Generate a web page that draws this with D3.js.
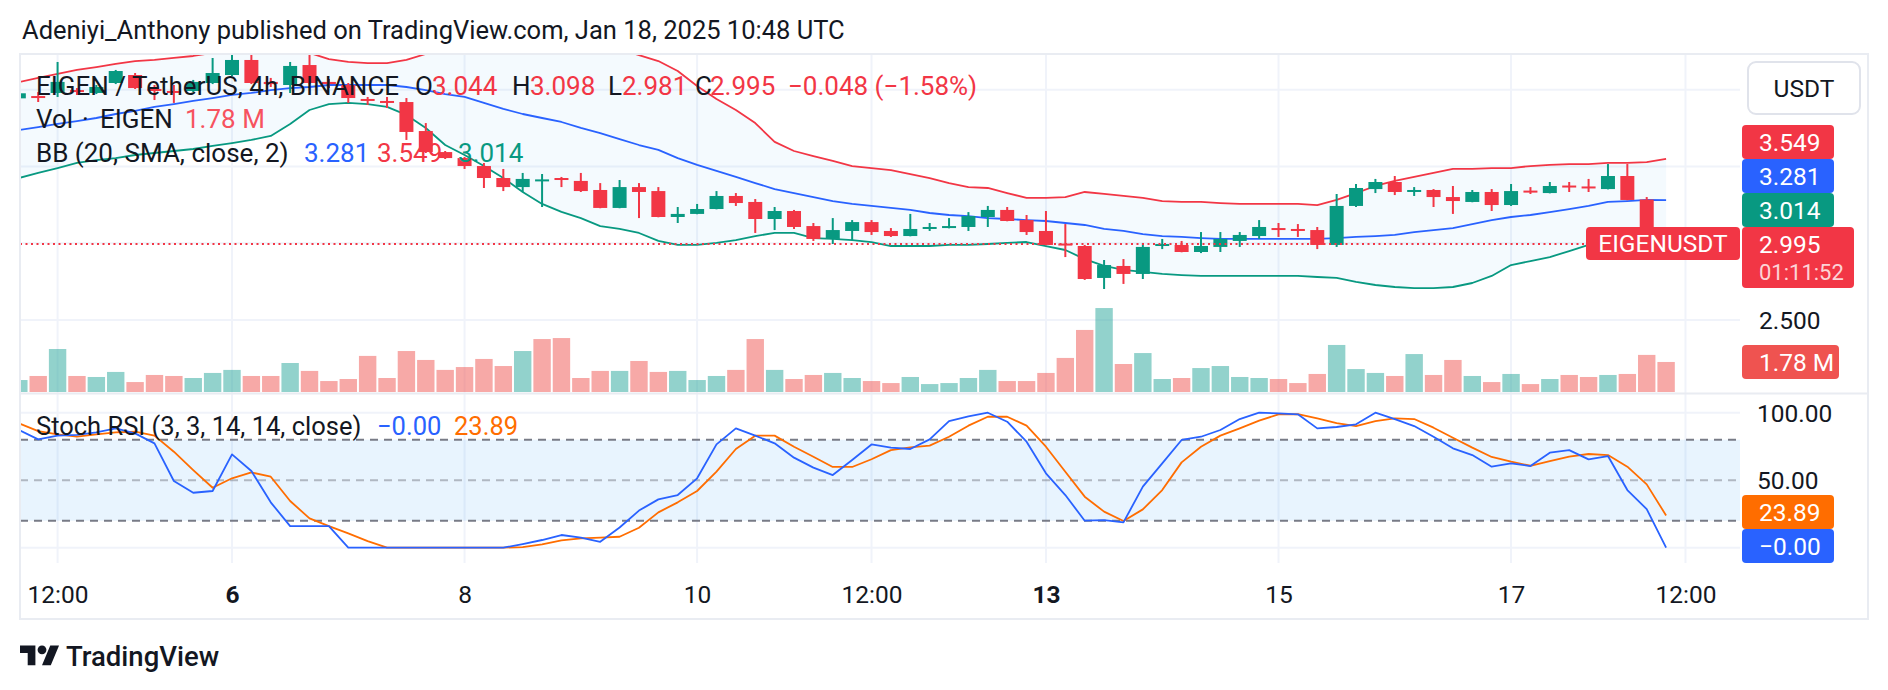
<!DOCTYPE html>
<html>
<head>
<meta charset="utf-8">
<script src="https://cdn.jsdelivr.net/npm/d3@7"></script>
<style>
	html, body { margin: 0; padding: 0; background: #fff; }
	svg { display: block; font-family: Roboto, "Noto Sans", sans-serif; }
</style>
</head>
<body>
<svg width="1888" height="690"></svg>
<script>
// EIGEN/USDT 4h bars, first bar Jan 4 04:00 UTC, last bar Jan 18 08:00 UTC
var firstBar = Date.UTC(2025, 0, 4, 4)
var barMs = 4 * 3600 * 1000

var opens = [3.944, 3.959, 3.979, 3.998, 3.979, 4.044, 4.096, 4.005, 3.992, 3.992,
	4.044, 4.096, 4.194, 4.051, 4.031, 4.161, 4.051, 4.031, 3.940, 3.927,
	3.920, 3.731, 3.594, 3.555, 3.503, 3.425, 3.366, 3.410, 3.425, 3.406,
	3.347, 3.230, 3.366, 3.340, 3.171, 3.191, 3.223, 3.308, 3.269, 3.158,
	3.210, 3.112, 3.028, 3.080, 3.138, 3.080, 3.047, 3.093, 3.099, 3.106,
	3.171, 3.217, 3.151, 3.080, 2.998, 2.982, 2.774, 2.852, 2.800, 2.982,
	2.989, 2.943, 2.976, 3.015, 3.047, 3.099, 3.093, 3.086, 2.989, 3.243,
	3.353, 3.399, 3.334, 3.347, 3.301, 3.269, 3.334, 3.249, 3.343, 3.327,
	3.376, 3.370, 3.353, 3.438, 3.285, 3.044]
var highs = [3.980, 3.985, 4.181, 4.011, 4.031, 4.129, 4.109, 4.031, 4.031, 4.064,
	4.207, 4.259, 4.227, 4.077, 4.181, 4.240, 4.070, 4.044, 3.953, 3.953,
	3.946, 3.783, 3.601, 3.562, 3.523, 3.484, 3.458, 3.451, 3.432, 3.458,
	3.392, 3.412, 3.392, 3.366, 3.236, 3.256, 3.340, 3.327, 3.288, 3.236,
	3.217, 3.132, 3.164, 3.151, 3.151, 3.099, 3.191, 3.132, 3.164, 3.203,
	3.243, 3.236, 3.184, 3.210, 3.125, 2.989, 2.891, 2.897, 3.002, 3.028,
	3.015, 3.073, 3.073, 3.073, 3.151, 3.132, 3.125, 3.106, 3.321, 3.386,
	3.419, 3.438, 3.366, 3.353, 3.373, 3.347, 3.353, 3.386, 3.366, 3.399,
	3.399, 3.419, 3.516, 3.516, 3.301, 3.098]
var lows = [3.940, 3.920, 3.953, 3.966, 3.972, 4.037, 4.005, 3.933, 3.914, 3.985,
	4.037, 4.090, 4.037, 4.018, 3.979, 4.037, 4.011, 3.914, 3.901, 3.881,
	3.673, 3.588, 3.549, 3.484, 3.360, 3.340, 3.334, 3.236, 3.366, 3.334,
	3.228, 3.228, 3.164, 3.169, 3.132, 3.189, 3.221, 3.243, 3.067, 3.086,
	3.093, 3.015, 2.995, 3.021, 3.054, 3.041, 3.045, 3.080, 3.097, 3.080,
	3.106, 3.143, 3.054, 2.987, 2.910, 2.761, 2.702, 2.735, 2.767, 2.962,
	2.941, 2.936, 2.943, 2.976, 3.028, 3.041, 3.041, 2.962, 2.976, 3.236,
	3.327, 3.314, 3.308, 3.236, 3.191, 3.267, 3.210, 3.243, 3.321, 3.325,
	3.334, 3.334, 3.351, 3.280, 3.015, 2.981]
var closes = [3.977, 3.953, 4.051, 3.985, 4.018, 4.122, 4.011, 3.992, 3.985, 4.051,
	4.109, 4.194, 4.044, 4.037, 4.155, 4.044, 4.037, 3.946, 3.927, 3.920,
	3.725, 3.594, 3.555, 3.503, 3.425, 3.366, 3.419, 3.416, 3.413, 3.340,
	3.230, 3.366, 3.334, 3.171, 3.191, 3.223, 3.308, 3.262, 3.158, 3.210,
	3.106, 3.028, 3.086, 3.138, 3.073, 3.047, 3.093, 3.106, 3.112, 3.177,
	3.217, 3.145, 3.073, 2.989, 2.985, 2.767, 2.858, 2.800, 2.976, 2.995,
	2.943, 2.982, 3.028, 3.054, 3.106, 3.086, 3.080, 2.989, 3.243, 3.360,
	3.399, 3.334, 3.347, 3.301, 3.275, 3.334, 3.249, 3.340, 3.337, 3.373,
	3.370, 3.363, 3.438, 3.282, 3.044, 2.995]
// volume in millions
var volumes = [0.71, 0.95, 2.55, 0.95, 0.89, 1.19, 0.59, 1.01, 0.95, 0.83,
	1.13, 1.31, 0.95, 0.95, 1.72, 1.25, 0.65, 0.77, 2.14, 0.83,
	2.43, 1.90, 1.31, 1.48, 1.96, 1.54, 2.43, 3.14, 3.20, 0.83,
	1.25, 1.25, 1.84, 1.19, 1.25, 0.71, 0.95, 1.31, 3.14, 1.31,
	0.77, 1.01, 1.13, 0.83, 0.65, 0.53, 0.89, 0.47, 0.53, 0.83,
	1.31, 0.65, 0.65, 1.13, 2.02, 3.68, 4.98, 1.66, 2.31, 0.77,
	0.83, 1.42, 1.54, 0.89, 0.83, 0.77, 0.53, 1.07, 2.79, 1.36,
	1.13, 0.95, 2.25, 1.01, 1.90, 0.95, 0.59, 1.07, 0.47, 0.77,
	1.01, 0.89, 1.01, 1.07, 2.20, 1.78]
// Bollinger bands (20, SMA, close, 2)
var bbUpper = [4.050, 4.077, 4.103, 4.129, 4.148, 4.168, 4.187, 4.194, 4.207, 4.220,
	4.240, 4.259, 4.279, 4.285, 4.272, 4.240, 4.200, 4.181, 4.174, 4.174,
	4.194, 4.233, 4.300, 4.330, 4.325, 4.325, 4.350, 4.376, 4.376, 4.338,
	4.324, 4.265, 4.226, 4.187, 4.122, 4.024, 3.940, 3.868, 3.783, 3.660,
	3.601, 3.568, 3.536, 3.503, 3.490, 3.477, 3.451, 3.425, 3.392, 3.366,
	3.360, 3.327, 3.295, 3.295, 3.301, 3.334, 3.321, 3.308, 3.295, 3.275,
	3.269, 3.269, 3.262, 3.256, 3.256, 3.256, 3.256, 3.249, 3.282, 3.327,
	3.373, 3.406, 3.432, 3.458, 3.484, 3.484, 3.490, 3.490, 3.503, 3.510,
	3.516, 3.516, 3.523, 3.523, 3.529, 3.549]
var bbBasis = [3.738, 3.757, 3.777, 3.796, 3.816, 3.842, 3.862, 3.888, 3.907, 3.927,
	3.946, 3.966, 3.979, 3.998, 4.011, 4.018, 4.031, 4.031, 4.031, 4.031,
	4.018, 3.998, 3.972, 3.953, 3.914, 3.875, 3.842, 3.816, 3.790, 3.751,
	3.718, 3.679, 3.640, 3.608, 3.555, 3.510, 3.471, 3.432, 3.392, 3.353,
	3.327, 3.301, 3.275, 3.256, 3.243, 3.230, 3.217, 3.197, 3.184, 3.177,
	3.164, 3.158, 3.151, 3.145, 3.132, 3.119, 3.093, 3.080, 3.060, 3.047,
	3.041, 3.034, 3.028, 3.028, 3.028, 3.028, 3.028, 3.028, 3.034, 3.041,
	3.047, 3.054, 3.073, 3.086, 3.099, 3.125, 3.151, 3.171, 3.184, 3.203,
	3.223, 3.243, 3.269, 3.275, 3.282, 3.281]
var bbLower = [3.425, 3.458, 3.490, 3.523, 3.542, 3.555, 3.575, 3.588, 3.601, 3.614,
	3.634, 3.653, 3.673, 3.699, 3.777, 3.868, 3.907, 3.914, 3.907, 3.888,
	3.836, 3.751, 3.640, 3.575, 3.503, 3.425, 3.334, 3.256, 3.204, 3.164,
	3.112, 3.093, 3.067, 3.015, 2.989, 2.989, 3.002, 3.021, 3.047, 3.067,
	3.067, 3.034, 3.028, 3.021, 3.008, 2.982, 2.982, 2.982, 2.989, 2.989,
	2.995, 3.002, 3.008, 2.982, 2.956, 2.897, 2.852, 2.826, 2.813, 2.800,
	2.793, 2.787, 2.787, 2.787, 2.787, 2.787, 2.787, 2.780, 2.774, 2.748,
	2.728, 2.715, 2.708, 2.708, 2.715, 2.741, 2.787, 2.858, 2.884, 2.910,
	2.949, 2.989, 3.002, 3.008, 3.015, 3.014]
// Stoch RSI (3, 3, 14, 14, close)
var stochK = [87.2, 80.2, 83.0, 83.5, 85.4, 88.4, 84.7, 77.3, 49.4, 40.7,
	42.0, 69.1, 56.8, 33.6, 16.0, 16.0, 16.0, 0, 0, 0,
	0, 0, 0, 0, 0, 0, 2.7, 5.7, 9.4, 7.4,
	4.4, 15.0, 27.5, 35.8, 39.0, 51.4, 76.5, 88.4, 83.0, 77.3,
	66.7, 59.3, 53.8, 64.9, 76.5, 74.1, 73.1, 80.2, 93.8, 97.3,
	100, 93.3, 78.5, 55.1, 39.0, 20.0, 20.5, 18.8, 45.2, 62.5,
	79.8, 82.2, 87.2, 95.3, 100, 99.5, 98.8, 88.4, 89.4, 91.4,
	100, 95.3, 90.1, 82.2, 73.6, 68.6, 60.0, 62.5, 60.5, 70.4,
	72.3, 65.4, 67.9, 42.7, 28.6, 0]
var stochD = [92.1, 86.4, 84.0, 82.2, 84.0, 85.4, 85.9, 83.0, 71.1, 57.5,
	44.4, 51.4, 55.8, 52.6, 34.6, 21.7, 16.0, 10.6, 4.9, 0,
	0, 0, 0, 0, 0, 0, 0.5, 2.5, 5.4, 6.9,
	7.4, 8.1, 14.8, 26.2, 33.6, 42.0, 56.3, 73.1, 83.0, 83.0,
	74.8, 67.4, 59.8, 59.8, 65.5, 72.3, 74.3, 75.6, 82.2, 90.4,
	97.0, 97.0, 90.4, 74.8, 56.3, 37.8, 26.7, 19.8, 28.4, 42.7,
	63.2, 74.8, 83.0, 88.4, 94.1, 98.8, 99.0, 95.8, 92.3, 90.1,
	93.8, 95.8, 95.3, 88.9, 81.5, 74.1, 67.2, 63.7, 60.7, 64.2,
	67.4, 69.4, 68.6, 60.0, 46.9, 23.89]

var tickDates = [Date.UTC(2025, 0, 4, 12), Date.UTC(2025, 0, 6), Date.UTC(2025, 0, 8), Date.UTC(2025, 0, 10),
	Date.UTC(2025, 0, 11, 12), Date.UTC(2025, 0, 13), Date.UTC(2025, 0, 15), Date.UTC(2025, 0, 17), Date.UTC(2025, 0, 18, 12)]
var tickLabels = ['12:00', '6', '8', '10', '12:00', '13', '15', '17', '12:00']
var boldTicks = ['6', '13']
var priceTicks = [2.5, 3.0, 3.5, 4.0]
var stochTicks = [0, 100]
var stochBands = [80, 50, 20]

var UP = '#089981', DOWN = '#f23645', TEXT = '#131722', GRID = '#f0f3fa'
var FS = 24.5

var times = opens.map(function(d, i) {return new Date(firstBar + i * barMs)})
var idx = d3.range(opens.length)
var last = opens.length - 1

var svg = d3.select('svg')

// layout
var plotL = 20, plotR = 1740, frameR = 1868
var mainTop = 54, mainBottom = 393
var stochTop = 395, stochBottom = 563, frameBottom = 619

var x = d3.scaleUtc()
	.domain([Date.UTC(2025, 0, 6), Date.UTC(2025, 0, 18, 8)])
	.range([232, 1666.1])
var y = d3.scaleLinear().domain([2.5, 4.0]).range([320, 89.75])
var yVol = d3.scaleLinear().domain([0, 5]).range([392, 307.7])
var yStoch = d3.scaleLinear().domain([0, 100]).range([547.7, 412.7])

var defs = svg.append('defs')
defs.append('clipPath').attr('id', 'clipMain').append('rect')
	.attr('x', plotL).attr('y', mainTop).attr('width', plotR - plotL).attr('height', mainBottom - mainTop)
defs.append('clipPath').attr('id', 'clipStoch').append('rect')
	.attr('x', plotL).attr('y', stochTop).attr('width', plotR - plotL).attr('height', stochBottom - stochTop)

// title
svg.append('text').attr('x', 22).attr('y', 39).attr('font-size', 25.5).attr('fill', TEXT)
	.text('Adeniyi_Anthony published on TradingView.com, Jan 18, 2025 10:48 UTC')

// grid
var grid = svg.append('g')
grid.selectAll('line.v').data(tickDates).enter().append('line')
	.attr('x1', function(d) {return x(d)}).attr('x2', function(d) {return x(d)})
	.attr('y1', mainTop).attr('y2', stochBottom)
	.attr('stroke', GRID).attr('stroke-width', 2)
grid.selectAll('line.h').data(priceTicks).enter().append('line')
	.attr('x1', plotL).attr('x2', plotR)
	.attr('y1', function(d) {return y(d)}).attr('y2', function(d) {return y(d)})
	.attr('stroke', GRID).attr('stroke-width', 2)
grid.selectAll('line.s').data(stochTicks).enter().append('line')
	.attr('x1', plotL).attr('x2', plotR)
	.attr('y1', function(d) {return yStoch(d)}).attr('y2', function(d) {return yStoch(d)})
	.attr('stroke', GRID).attr('stroke-width', 2)

// main pane
var main = svg.append('g').attr('clip-path', 'url(#clipMain)')

main.append('path')
	.datum(idx)
	.attr('fill', 'rgba(33,150,243,0.05)')
	.attr('d', d3.area()
		.x(function(i) {return x(times[i])})
		.y0(function(i) {return y(bbLower[i])})
		.y1(function(i) {return y(bbUpper[i])}))

main.selectAll('rect.vol').data(idx).enter().append('rect')
	.attr('x', function(i) {return x(times[i]) - 8.7})
	.attr('width', 17.4)
	.attr('y', function(i) {return yVol(volumes[i])})
	.attr('height', function(i) {return yVol(0) - yVol(volumes[i])})
	.attr('fill', function(i) {
		var ref = i > 0 ? closes[i - 1] : opens[i]
		return closes[i] >= ref ? 'rgba(38,166,154,0.5)' : 'rgba(239,83,80,0.5)'
	})

function bandLine(arr, color) {
	main.append('path')
		.datum(idx)
		.attr('fill', 'none')
		.attr('stroke', color)
		.attr('stroke-width', 1.8)
		.attr('stroke-linejoin', 'round')
		.attr('d', d3.line()
			.x(function(i) {return x(times[i])})
			.y(function(i) {return y(arr[i])}))
}
bandLine(bbUpper, '#f23645')
bandLine(bbBasis, '#2962ff')
bandLine(bbLower, '#089981')

var candles = main.append('g')
candles.selectAll('line').data(idx).enter().append('line')
	.attr('x1', function(i) {return x(times[i])}).attr('x2', function(i) {return x(times[i])})
	.attr('y1', function(i) {return y(highs[i])}).attr('y2', function(i) {return y(lows[i])})
	.attr('stroke', function(i) {return closes[i] >= opens[i] ? UP : DOWN})
	.attr('stroke-width', 2)
candles.selectAll('rect').data(idx).enter().append('rect')
	.attr('x', function(i) {return x(times[i]) - 7})
	.attr('width', 14)
	.attr('y', function(i) {return y(Math.max(opens[i], closes[i]))})
	.attr('height', function(i) {return Math.max(2, Math.abs(y(opens[i]) - y(closes[i])))})
	.attr('fill', function(i) {return closes[i] >= opens[i] ? UP : DOWN})

// last price line
main.append('line')
	.attr('x1', plotL).attr('x2', plotR)
	.attr('y1', y(closes[last])).attr('y2', y(closes[last]))
	.attr('stroke', DOWN).attr('stroke-width', 2).attr('stroke-dasharray', '2 3.5')

// stoch pane
var stoch = svg.append('g').attr('clip-path', 'url(#clipStoch)')
stoch.append('rect')
	.attr('x', plotL).attr('width', plotR - plotL)
	.attr('y', yStoch(80)).attr('height', yStoch(20) - yStoch(80))
	.attr('fill', 'rgba(33,150,243,0.1)')
stoch.selectAll('line.band').data(stochBands).enter().append('line')
	.attr('x1', plotL).attr('x2', plotR)
	.attr('y1', function(d) {return yStoch(d)}).attr('y2', function(d) {return yStoch(d)})
	.attr('stroke', function(d) {return d == 50 ? 'rgba(120,123,134,0.5)' : '#787b86'})
	.attr('stroke-width', 2).attr('stroke-dasharray', '8 6')

function stochLine(arr, color) {
	stoch.append('path')
		.datum(idx)
		.attr('fill', 'none')
		.attr('stroke', color)
		.attr('stroke-width', 1.8)
		.attr('stroke-linejoin', 'round')
		.attr('d', d3.line()
			.x(function(i) {return x(times[i])})
			.y(function(i) {return yStoch(arr[i])}))
}
stochLine(stochD, '#ff6d00')
stochLine(stochK, '#2962ff')

// frame
var frame = svg.append('g').attr('fill', 'none').attr('stroke', '#e9ecf2').attr('stroke-width', 2)
frame.append('rect').attr('x', plotL).attr('y', mainTop).attr('width', frameR - plotL).attr('height', frameBottom - mainTop)
frame.append('line').attr('x1', plotL).attr('x2', frameR).attr('y1', mainBottom + 0.5).attr('y2', mainBottom + 0.5)

// time axis
var xAxis = svg.append('g').attr('transform', 'translate(0,603)')
	.call(d3.axisBottom(x).tickValues(tickDates.map(function(d) {return new Date(d)}))
		.tickFormat(function(d, i) {return tickLabels[i]}).tickSize(0))
xAxis.select('.domain').remove()
xAxis.selectAll('text')
	.attr('y', 0).attr('dy', null)
	.attr('font-size', FS).attr('font-family', 'Roboto, sans-serif').attr('fill', TEXT)
	.attr('font-weight', function(d, i) {return boldTicks.indexOf(tickLabels[i]) >= 0 ? 700 : 400})

// legends
function legend(items, baseline, size) {
	var t = svg.append('g')
	t.selectAll('text').data(items).enter().append('text')
		.attr('x', function(d) {return d[1]}).attr('y', baseline)
		.attr('font-size', size).attr('fill', function(d) {return d[2]})
		.text(function(d) {return d[0]})
}
var f3 = d3.format('.3f')
legend([
	['EIGEN / TetherUS, 4h, BINANCE', 36, TEXT],
	['O', 415, TEXT], [f3(opens[last]), 432, DOWN],
	['H', 512, TEXT], [f3(highs[last]), 530, DOWN],
	['L', 608, TEXT], [f3(lows[last]), 622, DOWN],
	['C', 695, TEXT], [f3(closes[last]), 710, DOWN],
	['\u22120.048 (\u22121.58%)', 788, DOWN]
], 95, 26)
legend([['Vol', 36, TEXT], ['\u00b7', 82, TEXT], ['EIGEN', 100, TEXT],
	[volumes[last].toFixed(2) + ' M', 185, '#f7525f']], 128, 26)
legend([['BB (20, SMA, close, 2)', 36, TEXT], [f3(bbBasis[last]), 304, '#2962ff'],
	[f3(bbUpper[last]), 377, '#f23645'], [f3(bbLower[last]), 458, '#089981']], 162, 26)
legend([['Stoch RSI (3, 3, 14, 14, close)', 36, TEXT], ['\u22120.00', 377, '#2962ff'],
	[stochD[last].toFixed(2), 454, '#ff6d00']], 435, 25.5)

// right scale
var yAxis = svg.append('g').attr('transform', 'translate(1759,0)')
	.call(d3.axisRight(y).tickValues([2.5]).tickFormat(d3.format('.3f')).tickSize(0).tickPadding(0))
var sAxis = svg.append('g').attr('transform', 'translate(1757,0)')
	.call(d3.axisRight(yStoch).tickValues([100, 50]).tickFormat(d3.format('.2f')).tickSize(0).tickPadding(0))
;[yAxis, sAxis].forEach(function(a) {
	a.select('.domain').remove()
	a.selectAll('text')
		.attr('dy', '0.34em').attr('x', 0)
		.attr('font-size', FS).attr('font-family', 'Roboto, sans-serif').attr('fill', TEXT)
})

// currency button
svg.append('rect').attr('x', 1748).attr('y', 62).attr('width', 112).attr('height', 52).attr('rx', 8)
	.attr('fill', '#fff').attr('stroke', '#e0e3eb').attr('stroke-width', 2)
svg.append('text').attr('x', 1804).attr('y', 97).attr('text-anchor', 'middle')
	.attr('font-size', FS).attr('fill', TEXT).text('USDT')

// price labels, stacked upward so they don't overlap
function stackLabels(labels, floor) {
	var limit = floor
	labels.forEach(function(l) {
		l.top = Math.min(l.py - 17, limit - l.h)
		if (l.h > 34) l.top = Math.min(l.py - 17, limit - 34)
		limit = l.top
	})
	return labels
}
var priceLabels = stackLabels([
	{text: f3(closes[last]), sub: '01:11:52', py: y(closes[last]), h: 61, color: DOWN, w: 112},
	{text: f3(bbLower[last]), py: y(bbLower[last]), h: 34, color: '#089981', w: 92},
	{text: f3(bbBasis[last]), py: y(bbBasis[last]), h: 34, color: '#2962ff', w: 92},
	{text: f3(bbUpper[last]), py: y(bbUpper[last]), h: 34, color: '#f23645', w: 92}
], 1000)
var stochLabels = stackLabels([
	{text: '\u22120.00', py: yStoch(stochK[last]), h: 34, color: '#2962ff', w: 92},
	{text: stochD[last].toFixed(2), py: yStoch(stochD[last]), h: 34, color: '#ff6d00', w: 92}
], stochBottom)
var volLabels = [{text: volumes[last].toFixed(2) + ' M', py: yVol(volumes[last]), top: yVol(volumes[last]) - 17, h: 34, color: '#ef5350', w: 97}]

var allLabels = priceLabels.concat(stochLabels, volLabels)
var lg = svg.append('g')
allLabels.forEach(function(l) {
	lg.append('rect').attr('x', 1742).attr('y', l.top).attr('width', l.w).attr('height', l.h)
		.attr('rx', 4).attr('fill', l.color)
	lg.append('text').attr('x', 1759).attr('y', l.top + 26).attr('font-size', FS).attr('fill', '#fff').text(l.text)
	if (l.sub) {
		lg.append('text').attr('x', 1759).attr('y', l.top + 53).attr('font-size', 22)
			.attr('fill', 'rgba(255,255,255,0.8)').text(l.sub)
	}
})

// symbol label on the last price
var sym = svg.append('g')
sym.append('rect').attr('x', 1586).attr('y', priceLabels[0].top).attr('width', 154).attr('height', 33)
	.attr('rx', 4).attr('fill', DOWN)
sym.append('text').attr('x', 1663).attr('y', priceLabels[0].top + 25).attr('text-anchor', 'middle')
	.attr('font-size', FS).attr('fill', '#fff').text('EIGENUSDT')

// TradingView logo
var logo = svg.append('g').attr('transform', 'translate(20,641) scale(1.1)').attr('fill', TEXT)
logo.append('path').attr('d', 'M14 22H7V11H0V4h14v18zM28 22h-8l7.5-18h8L28 22z')
logo.append('circle').attr('cx', 20).attr('cy', 8).attr('r', 4)
svg.append('text').attr('x', 66).attr('y', 666).attr('font-size', 27.5).attr('font-weight', 500)
	.attr('fill', TEXT).text('TradingView')
</script>
</body>
</html>
